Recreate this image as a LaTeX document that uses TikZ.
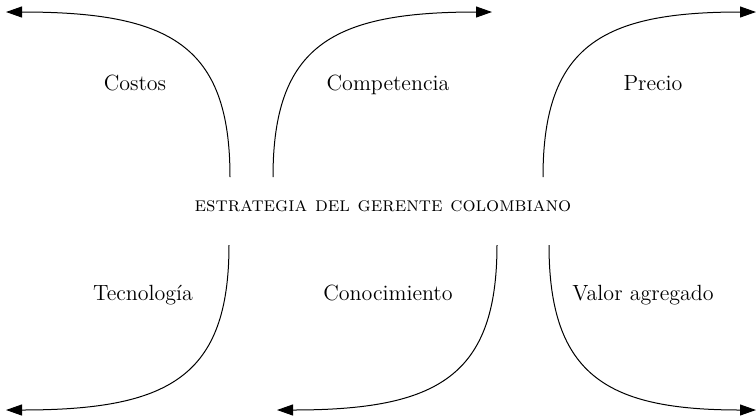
\documentclass[tikz,border=0pt]{standalone}
\usepackage{fontspec}
\usepackage{tikz}
\usetikzlibrary{arrows.meta,positioning}

\begin{document}
\begin{tikzpicture}[x=0.5pt,y=-0.5pt,
  flecha/.style={line width=0.5pt,-{Triangle[length=8pt,width=5.5pt]}},
  etiqueta/.style={font=\fontsize{11}{13}\selectfont,inner sep=0pt,anchor=base}]
\useasboundingbox (0,0) rectangle (756,419);
% puntos de partida de las curvas
\coordinate (a1) at (230,177);
\coordinate (a2) at (273,177);
\coordinate (a3) at (543,177);
\coordinate (b1) at (229,245);
\coordinate (b2) at (497,245);
\coordinate (b3) at (549,245);
% puntas de las flechas
\coordinate (pa1) at (6,12);
\coordinate (pa2) at (492,12);
\coordinate (pa3) at (756,12);
\coordinate (pb1) at (6,410);
\coordinate (pb2) at (277,410);
\coordinate (pb3) at (756,410);

\node[etiqueta] (costos) at (135,90) {Costos};
\node[etiqueta] (competencia) at (388,90) {Competencia};
\node[etiqueta] (precio) at (653,90) {Precio};
\node[etiqueta] (tecnologia) at (143,300) {Tecnología};
\node[etiqueta] (conocimiento) at (388,300) {Conocimiento};
\node[etiqueta] (valor) at (643,300) {Valor agregado};
\node[etiqueta,font=\fontsize{10.3}{12}\selectfont] (estrategia) at (383,211)
  {\textsc{estrategia del gerente colombiano}};

\draw[flecha] (a1) .. controls (230,45) and (170,12) .. (pa1);
\draw[flecha] (a2) .. controls (273,45) and (333,12) .. (pa2);
\draw[flecha] (a3) .. controls (543,45) and (603,12) .. (pa3);
\draw[flecha] (b1) .. controls (229,377) and (169,410) .. (pb1);
\draw[flecha] (b2) .. controls (497,377) and (437,410) .. (pb2);
\draw[flecha] (b3) .. controls (549,377) and (609,410) .. (pb3);
\end{tikzpicture}
\end{document}
